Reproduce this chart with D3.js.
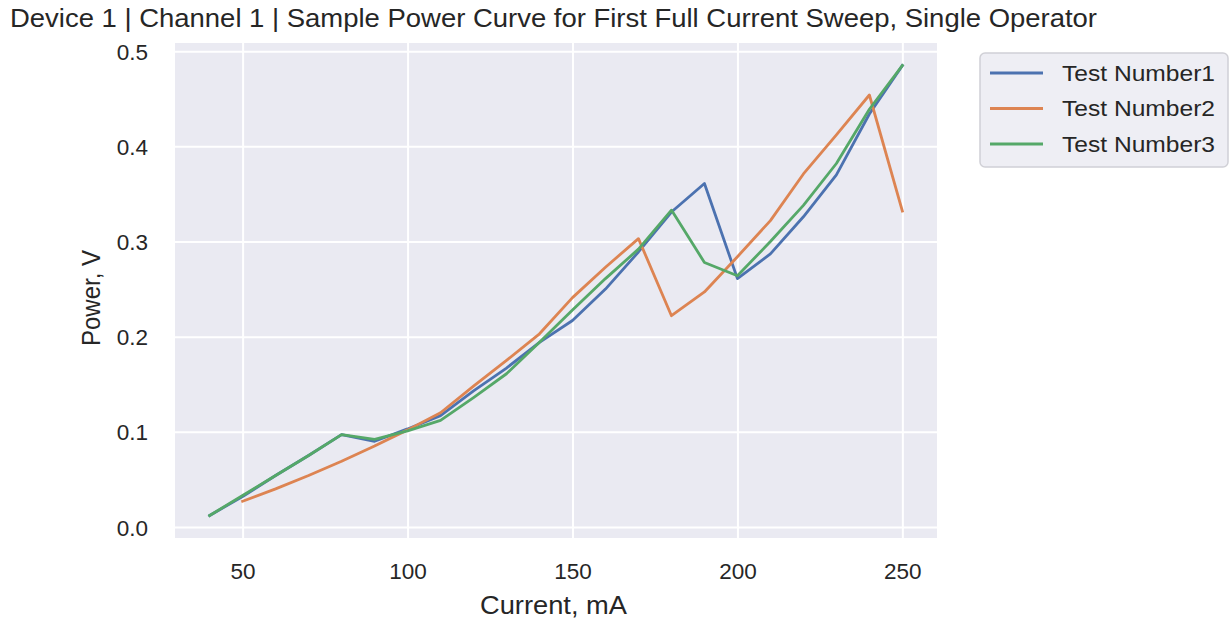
<!DOCTYPE html>
<html>
<head>
<meta charset="utf-8">
<script src="https://cdn.jsdelivr.net/npm/d3@7"></script>
<style>
  html, body { margin: 0; padding: 0; background: #ffffff; }
  svg { display: block; }
  text { font-family: "Liberation Sans", Arial, sans-serif; fill: #262626; }
</style>
</head>
<body>
<svg id="chart" width="1231" height="622"></svg>
<script>
// Drive current (mA) at each sweep step
const currentA = [40, 50, 60, 70, 80, 90, 100, 110, 120, 130, 140, 150, 160, 170, 180, 190, 200, 210, 220, 230, 240, 250];
const currentB = [50, 60, 70, 80, 90, 100, 110, 120, 130, 140, 150, 160, 170, 180, 190, 200, 210, 220, 230, 240, 250];

// Measured power for each test run
const test1 = [0.012, 0.032, 0.054, 0.075, 0.097, 0.090, 0.103, 0.117, 0.143, 0.167, 0.194, 0.217, 0.250, 0.289, 0.331, 0.361, 0.261, 0.287, 0.326, 0.370, 0.434, 0.485];
const test2 = [0.027, 0.040, 0.054, 0.069, 0.085, 0.102, 0.120, 0.148, 0.175, 0.203, 0.241, 0.273, 0.303, 0.222, 0.247, 0.284, 0.322, 0.371, 0.412, 0.454, 0.332];
const test3 = [0.012, 0.033, 0.054, 0.075, 0.097, 0.092, 0.101, 0.112, 0.136, 0.161, 0.194, 0.228, 0.261, 0.292, 0.333, 0.278, 0.264, 0.300, 0.338, 0.382, 0.439, 0.485];

const seriesNames = ["Test Number1", "Test Number2", "Test Number3"];
const seriesColors = ["#4c72b0", "#dd8452", "#55a868"];

const xTicks = [50, 100, 150, 200, 250];
const yTicks = [0.0, 0.1, 0.2, 0.3, 0.4, 0.5];

const titleText = "Device 1 | Channel 1 | Sample Power Curve for First Full Current Sweep, Single Operator";
const xLabel = "Current, mA";
const yLabel = "Power, V";

const series = [
  { name: seriesNames[0], color: seriesColors[0], xs: currentA, ys: test1 },
  { name: seriesNames[1], color: seriesColors[1], xs: currentB, ys: test2 },
  { name: seriesNames[2], color: seriesColors[2], xs: currentA, ys: test3 }
];

const svg = d3.select("#chart");
const plot = { left: 175, right: 937, top: 43, bottom: 538 };

// Axis limits padded by 5% of the data span on each side
const allX = currentA.concat(currentB);
const allY = test1.concat(test2, test3);
const xMin = d3.min(allX), xMax = d3.max(allX);
const yMin = d3.min(allY), yMax = d3.max(allY);
const xPad = (xMax - xMin) * 0.05, yPad = (yMax - yMin) * 0.05;

const x = d3.scaleLinear().domain([xMin - xPad, xMax + xPad]).range([plot.left, plot.right]);
const y = d3.scaleLinear().domain([yMin - yPad, yMax + yPad]).range([plot.bottom, plot.top]);

// Background panel
svg.append("rect")
  .attr("x", plot.left).attr("y", plot.top)
  .attr("width", plot.right - plot.left).attr("height", plot.bottom - plot.top)
  .attr("fill", "#eaeaf2");

// Grid lines via axes with full-length ticks
const gx = svg.append("g")
  .attr("transform", `translate(0,${plot.bottom})`)
  .call(d3.axisBottom(x).tickValues(xTicks).tickSize(-(plot.bottom - plot.top)).tickFormat(d3.format("d")));
const gy = svg.append("g")
  .attr("transform", `translate(${plot.left},0)`)
  .call(d3.axisLeft(y).tickValues(yTicks).tickSize(-(plot.right - plot.left)).tickFormat(d3.format(".1f")));

[gx, gy].forEach(g => {
  g.select(".domain").remove();
  g.selectAll(".tick line").attr("stroke", "#ffffff").attr("stroke-width", 2);
  g.selectAll(".tick text").attr("font-size", 22.5).attr("fill", "#262626")
    .style("font-family", "'Liberation Sans', Arial, sans-serif");
});
gx.selectAll(".tick text").attr("y", 41).attr("dy", 0);
gy.selectAll(".tick text").attr("x", -27).attr("dy", "0.36em");

// Lines
const line = d3.line().x(d => x(d[0])).y(d => y(d[1]));
svg.append("g").selectAll("path")
  .data(series)
  .join("path")
  .attr("d", s => line(s.xs.map((v, i) => [v, s.ys[i]])))
  .attr("fill", "none")
  .attr("stroke", s => s.color)
  .attr("stroke-width", 2.8)
  .attr("stroke-linejoin", "round")
  .attr("stroke-linecap", "square");

// Title and axis labels
svg.append("text")
  .attr("x", 10).attr("y", 27)
  .attr("font-size", 25)
  .attr("textLength", 1087).attr("lengthAdjust", "spacingAndGlyphs")
  .text(titleText);

svg.append("text")
  .attr("x", 480).attr("y", 614)
  .attr("font-size", 25)
  .attr("textLength", 147).attr("lengthAdjust", "spacingAndGlyphs")
  .text(xLabel);

svg.append("text")
  .attr("transform", `translate(100,346) rotate(-90)`)
  .attr("font-size", 25)
  .attr("textLength", 96).attr("lengthAdjust", "spacingAndGlyphs")
  .text(yLabel);

// Legend
const legend = svg.append("g").attr("transform", "translate(980,53)");
legend.append("rect")
  .attr("x", 0).attr("y", 0).attr("width", 248).attr("height", 114)
  .attr("rx", 5).attr("ry", 5)
  .attr("fill", "#eeeef4").attr("stroke", "#d0d0d6").attr("stroke-width", 1.5);
const items = legend.selectAll("g.item")
  .data(series)
  .join("g")
  .attr("class", "item")
  .attr("transform", (d, i) => `translate(0,${20 + i * 35.5})`);
items.append("line")
  .attr("x1", 10).attr("x2", 63).attr("y1", 0).attr("y2", 0)
  .attr("stroke", d => d.color).attr("stroke-width", 3);
items.append("text")
  .attr("x", 82).attr("y", 0).attr("dy", "0.36em")
  .attr("font-size", 22)
  .attr("textLength", 153).attr("lengthAdjust", "spacingAndGlyphs")
  .text(d => d.name);
</script>
</body>
</html>
